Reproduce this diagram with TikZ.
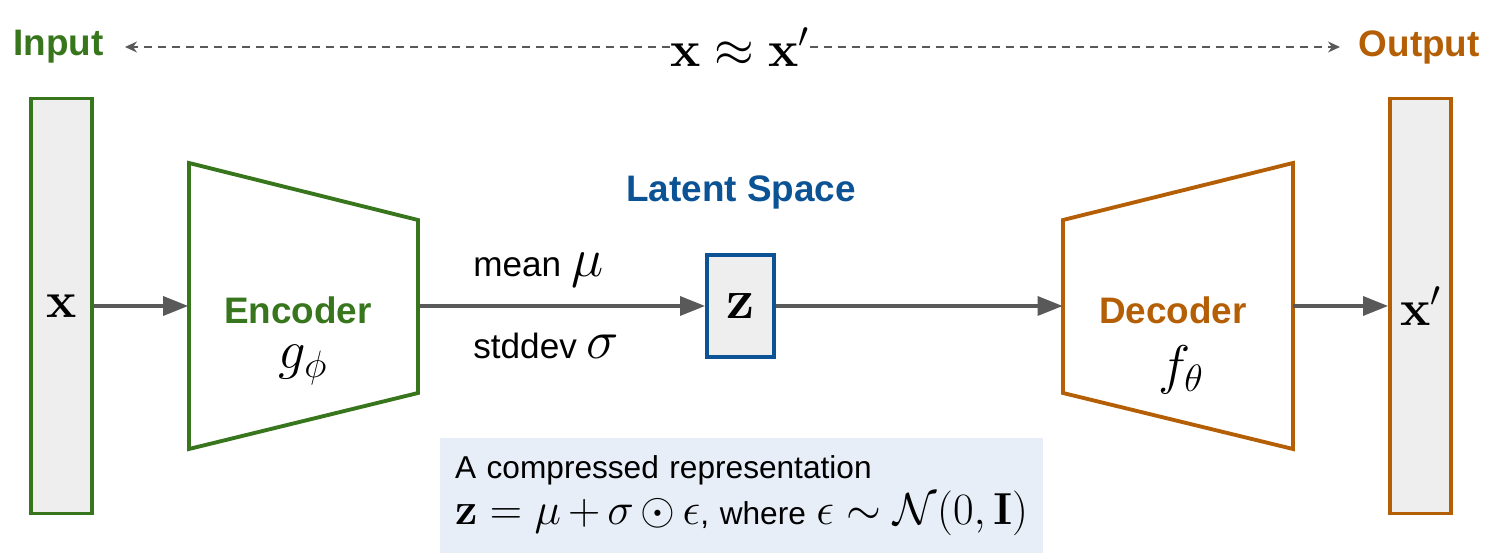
\documentclass[tikz,border=0pt]{standalone}
\usepackage{fix-cm}
\usepackage[no-math]{fontspec}
\setmainfont{Liberation Sans}
\usetikzlibrary{arrows.meta, positioning, calc}

\definecolor{encgreen}{HTML}{38761D}
\definecolor{decorange}{HTML}{B45F06}
\definecolor{latblue}{HTML}{0B5394}
\definecolor{arrowgray}{HTML}{595959}
\definecolor{boxgray}{HTML}{EEEEEE}
\definecolor{noteblue}{HTML}{E7EEF8}

\newcommand{\eqsize}{\fontsize{29}{32}\selectfont}
\newcommand{\fnsize}{\fontsize{31}{34}\selectfont}
\newcommand{\parsize}{\fontsize{31}{34}\selectfont}
\newcommand{\noteeq}{\fontsize{25.5}{28}\selectfont}

\begin{document}
\begin{tikzpicture}[
    x=0.02cm, y=-0.02cm,
    vecbox/.style={draw, line width=2.2pt, fill=boxgray, minimum width=1.22cm, minimum height=8.3cm, inner sep=0pt},
    zbox/.style={draw=latblue, line width=2.2pt, fill=boxgray, minimum width=1.34cm, minimum height=2.04cm, inner sep=0pt},
    netarea/.style={minimum width=4.6cm, minimum height=5.72cm, inner sep=0pt},
    net/.style={line width=2.2pt, line join=miter},
    title/.style={font=\fontsize{21}{25}\selectfont\bfseries, inner sep=0pt},
    textlabel/.style={font=\fontsize{20}{24}\selectfont, inner sep=0pt},
    arrow/.style={-{Triangle[length=0.5cm, width=0.38cm]}, line width=1.9pt, draw=arrowgray},
    dasharrow/.style={-{Stealth[length=0.24cm, width=0.22cm]}, line width=0.8pt, draw=arrowgray, dash pattern=on 0.16cm off 0.12cm}
]
\useasboundingbox (0,0) rectangle (1485,553);

% top row
\node[title, text=encgreen, anchor=west] (inlabel) at (13,47) {Input};
\node[title, text=decorange, anchor=east] (outlabel) at (1480,47) {Output};
\node[inner sep=0pt, font=\eqsize] (approx) at (740,47) {$\mathbf{x} \approx \mathbf{x}'$};
\coordinate (inend) at (125,47);
\coordinate (outend) at (1340,47);
\draw[dasharrow] (approx.west) -- (inend);
\draw[dasharrow] (approx.east) -- (outend);

% input and output vectors
\node[vecbox, draw=encgreen, font=\eqsize] (xin) at (61.5,306) {$\mathbf{x}$};
\node[vecbox, draw=decorange, font=\eqsize] (xout) at (1420.5,306) {$\mathbf{x}'$};

% encoder
\node[netarea] (enc) at (303.5,306) {};
\draw[net, encgreen] (189,163) -- (418,220) -- (418,393) -- (189,449) -- cycle;
\node[title, text=encgreen] (enclabel) at (298,310) {Encoder};
\node[font=\fnsize, inner sep=0pt] (encfn) at (303,365) {$g_\phi$};

% decoder
\node[netarea] (dec) at (1178,306) {};
\draw[net, decorange] (1063,220) -- (1293,163) -- (1293,449) -- (1063,393) -- cycle;
\node[title, text=decorange] (declabel) at (1173,310) {Decoder};
\node[font=\fnsize, inner sep=0pt] (decfn) at (1181,370) {$f_\theta$};

% latent space
\node[title, text=latblue] (latlabel) at (741,192) {Latent Space};
\node[zbox, font=\fontsize{32}{35}\selectfont] (zvec) at (740.5,306) {$\mathbf{z}$};
\node[textlabel, anchor=west] (meanlabel) at (473,270) {mean {\parsize$\mu$}};
\node[textlabel, anchor=west] (stdlabel) at (473,346) {stddev {\parsize$\sigma$}};

% note
\node[fill=noteblue, minimum width=12.06cm, minimum height=2.3cm, text width=11.46cm,
      inner xsep=0.3cm, align=left, font=\fontsize{18}{26}\selectfont] (note) at (741.5,495.5)
    {A compressed representation\\
     {\noteeq$\mathbf{z} = \mu + \sigma \odot \epsilon$}, where {\noteeq$\epsilon \sim \mathcal{N}(0, \mathbf{I})$}};

\draw[arrow] (xin) -- (enc);
\draw[arrow] (enc) -- (zvec);
\draw[arrow] (zvec) -- (dec);
\draw[arrow] (dec) -- (xout);
\end{tikzpicture}
\end{document}
